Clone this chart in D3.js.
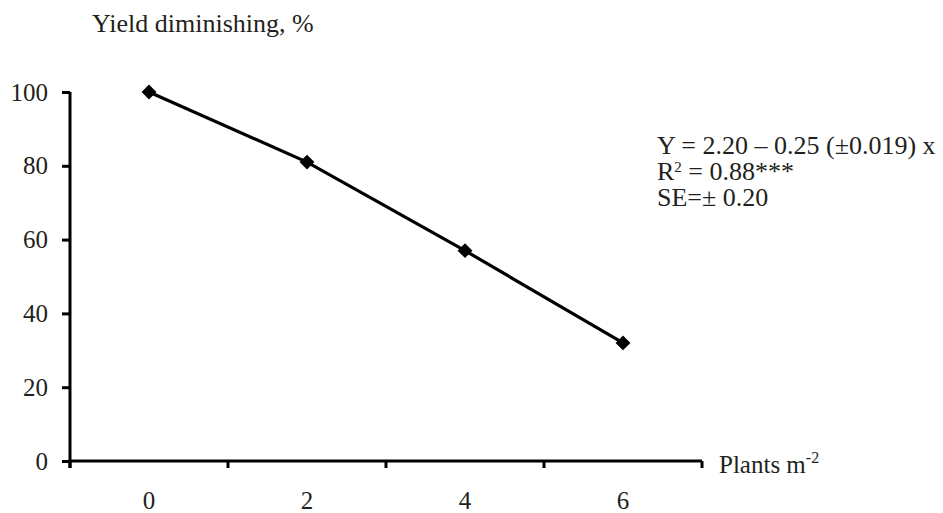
<!DOCTYPE html>
<html><head><meta charset="utf-8">
<script src="https://cdn.jsdelivr.net/npm/d3@7"></script>
<style>
html,body{margin:0;padding:0;background:#fff;}
svg text{font-family:"Liberation Serif","Times New Roman",Times,"DejaVu Serif",serif !important;fill:#231f20;}
</style></head>
<body><svg id="c" width="943" height="513"></svg>
<script>
const categories = ["0", "2", "4", "6"];
const values = [100, 81, 57, 32];
const yTicks = [0, 20, 40, 60, 80, 100];
const yTitle = "Yield diminishing, %";
const xTitle = "Plants m";
const xTitleSup = "-2";
const eqLines = ["Y = 2.20 – 0.25 (±0.019) x", "R", "SE=± 0.20"];

const FS = 25, FT = 26;
const svg = d3.select("#c");
const x = d3.scaleBand().domain(categories).range([70, 702]).padding(0);
const y = d3.scaleLinear().domain([0, 100]).range([461, 92]);

// y axis
const gy = svg.append("g").attr("transform", "translate(70,0)")
  .call(d3.axisLeft(y).tickValues(yTicks).tickSize(8).tickPadding(14).tickFormat(d3.format("d")));
gy.attr("font-family", null);
gy.select(".domain").attr("d", `M0,${y(100)}V${y(0)+7}`).attr("stroke", "#000").attr("stroke-width", 3);
gy.selectAll(".tick line").attr("stroke", "#000").attr("stroke-width", 3);
gy.selectAll(".tick text").attr("font-size", FS).attr("fill", "#231f20");

// x axis
const gx = svg.append("g").attr("transform", `translate(0,${y(0)})`);
gx.append("path").attr("d", `M${x.range()[0]-1.5},0H${x.range()[1]}`).attr("stroke", "#000").attr("stroke-width", 3).attr("fill", "none");
const bounds = categories.map(c => x(c)).concat([x.range()[1]]);
gx.selectAll("line.tk").data(bounds).join("line").attr("class", "tk")
  .attr("x1", d => d).attr("x2", d => d).attr("y1", 0).attr("y2", 7)
  .attr("stroke", "#000").attr("stroke-width", 3);
gx.selectAll("text.lb").data(categories).join("text").attr("class", "lb")
  .attr("x", d => x(d) + x.bandwidth() / 2).attr("y", 48)
  .attr("text-anchor", "middle").attr("font-size", FS).text(d => d);

// line
const line = d3.line().x((d, i) => x(categories[i]) + x.bandwidth() / 2).y(d => y(d));
svg.append("path").datum(values).attr("d", line).attr("fill", "none")
  .attr("stroke", "#000").attr("stroke-width", 3.2);
svg.selectAll("path.pt").data(values).join("path").attr("class", "pt")
  .attr("d", d3.symbol(d3.symbolSquare, 110))
  .attr("transform", (d, i) => `translate(${x(categories[i]) + x.bandwidth() / 2},${y(d)}) rotate(45)`)
  .attr("fill", "#000");

// titles
svg.append("text").attr("x", 92).attr("y", 32).attr("font-size", FT).text(yTitle);
const xt = svg.append("text").attr("x", 719).attr("y", 473).attr("font-size", FS);
xt.append("tspan").text(xTitle);
xt.append("tspan").attr("font-size", 16).attr("dy", -10).text(xTitleSup);

// equation (one text block, three lines)
const eq = svg.append("text").attr("font-size", FT);
eq.append("tspan").attr("x", 657).attr("y", 154).text(eqLines[0]);
eq.append("tspan").attr("x", 657).attr("y", 180).text(eqLines[1]);
eq.append("tspan").attr("font-size", 15).attr("dy", -8).text("2");
eq.append("tspan").attr("dy", 8).text(" = 0.88***");
eq.append("tspan").attr("x", 657).attr("y", 206).text(eqLines[2]);
</script></body></html>
